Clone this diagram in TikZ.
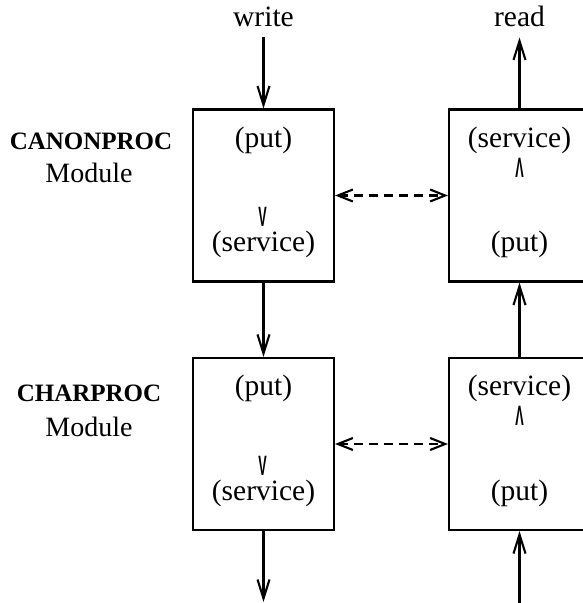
\documentclass[tikz,border=0pt]{standalone}
\usepackage{fontspec}
\usepackage{tikz}
\usetikzlibrary{calc,arrows.meta}
\setmainfont{Liberation Serif}
\newfontfamily\chevfont{Liberation Sans}
\tikzstyle{modbox} = [
    draw,
    rectangle,
    line width=2.1pt,
    minimum width=141pt,
    minimum height=172pt,
    inner sep=0pt
    ]
\tikzstyle{boxtext} = [
    anchor=base,
    inner sep=0pt,
    font=\fontsize{29.5}{35}\selectfont
    ]
\tikzstyle{chev} = [
    anchor=base,
    inner sep=0pt,
    font=\chevfont\bfseries\fontsize{28}{32}\selectfont
    ]
\tikzstyle{modname} = [
    anchor=base,
    inner sep=0pt,
    font=\bfseries\fontsize{25}{30}\selectfont
    ]
\tikzstyle{modword} = [
    anchor=base,
    inner sep=0pt,
    font=\fontsize{28}{33}\selectfont
    ]
\tikzstyle{flow} = [
    line width=2.1pt,
    -{Straight Barb[length=19pt,width=12pt]}
    ]
\tikzstyle{peer} = [
    line width=2.1pt,
    dash pattern=on 9pt off 6pt,
    {Straight Barb[length=15pt,width=12pt]}-{Straight Barb[length=15pt,width=12pt]}
    ]

\begin{document}
\begin{tikzpicture}[x=1pt,y=1pt]
\useasboundingbox (0,0) rectangle (583,603);

% module boxes
\node[modbox] (canonL) at (263.5,407.5) {};
\node[modbox] (canonR) at (519.5,407.5) {};
\node[modbox] (charL) at (263.5,159) {};
\node[modbox] (charR) at (519.5,159) {};

% texts in the boxes
\node[boxtext] (canonLput) at ($(canonL.north)+(0,-39)$) {(put)};
\node[chev] (canonLdown) at ($(canonL.south)+(-1,56)$) {\scalebox{0.45}[1]{V}};
\node[boxtext] (canonLsrv) at ($(canonL.south)+(0,31)$) {(service)};
\node[boxtext] (canonRsrv) at ($(canonR.north)+(0,-39)$) {(service)};
\node[chev] (canonRup) at ($(canonR.north)+(0,-69)$) {\scalebox{0.45}[1]{Λ}};
\node[boxtext] (canonRput) at ($(canonR.south)+(0,31)$) {(put)};

\node[boxtext] (charLput) at ($(charL.north)+(0,-39)$) {(put)};
\node[chev] (charLdown) at ($(charL.south)+(-1,56)$) {\scalebox{0.45}[1]{V}};
\node[boxtext] (charLsrv) at ($(charL.south)+(0,31)$) {(service)};
\node[boxtext] (charRsrv) at ($(charR.north)+(0,-39)$) {(service)};
\node[chev] (charRup) at ($(charR.north)+(0,-69)$) {\scalebox{0.45}[1]{Λ}};
\node[boxtext] (charRput) at ($(charR.south)+(0,31)$) {(put)};

% module names
\node[modname] (canonname) at (91,453) {CANONPROC};
\node[modword] (canonmod) at (89,420) {Module};
\node[modname] (charname) at (89,201) {CHARPROC};
\node[modword] (charmod) at (89,166) {Module};

% ends
\node[boxtext] (write) at (263.5,576) {write};
\node[boxtext] (read) at (519.5,576) {read};
\coordinate (charLout) at (263.5,1);
\coordinate (charRin) at (519.5,0);

% connectors
\draw[flow, shorten <=10pt] (write) -- (canonL);
\draw[flow, shorten >=10pt] (canonR) -- (read);
\draw[flow] (canonL) -- (charL);
\draw[flow] (charR) -- (canonR);
\draw[flow] (charL) -- (charLout);
\draw[flow] (charRin) -- (charR);
\draw[peer] (canonL) -- (canonR);
\draw[peer] (charL) -- (charR);
\end{tikzpicture}
\end{document}
